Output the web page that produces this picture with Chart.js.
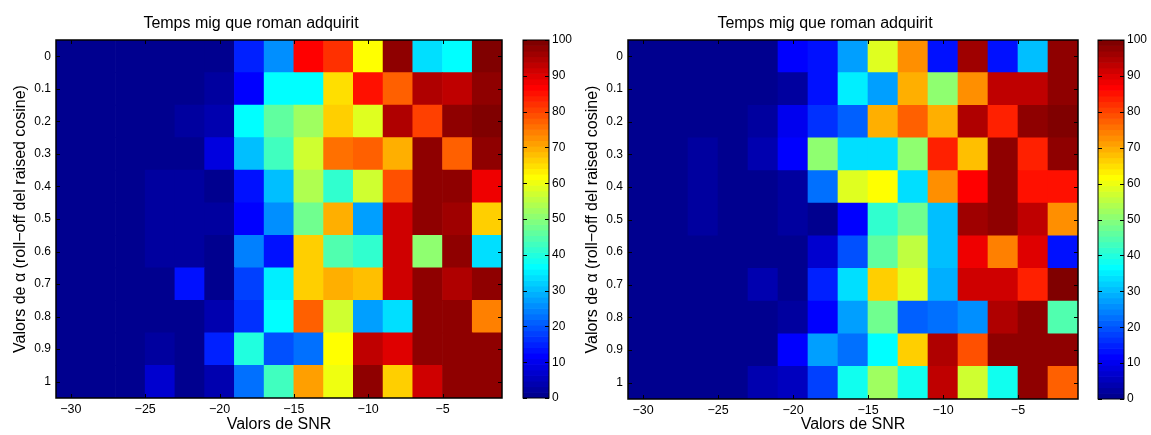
<!DOCTYPE html>
<html>
<head>
<meta charset="utf-8">
<script src="https://cdn.jsdelivr.net/npm/chart.js@4.4.0/dist/chart.umd.min.js"></script>
<style>
body { margin: 0; background: #fff; width: 1151px; height: 435px; position: relative; overflow: hidden; }
.box { position: absolute; top: 0; height: 435px; }
</style>
</head>
<body>
<div class="box" style="left:0;width:558px"><canvas id="mapA"></canvas></div>
<div class="box" style="left:515px;width:64px"><canvas id="barA"></canvas></div>
<div class="box" style="left:572px;width:562px"><canvas id="mapB"></canvas></div>
<div class="box" style="left:1090px;width:61px"><canvas id="barB"></canvas></div>
<script>
const snr = [-30, -28, -26, -24, -22, -20, -18, -16, -14, -12, -10, -8, -6, -4, -2];
const alphas = [0, 0.1, 0.2, 0.3, 0.4, 0.5, 0.6, 0.7, 0.8, 0.9, 1];
const snrTicks = [-30, -25, -20, -15, -10, -5];
const colorTicks = [0, 10, 20, 30, 40, 50, 60, 70, 80, 90, 100];
const titleText = 'Temps mig que roman adquirit';
const xTitle = 'Valors de SNR';
const yTitle = 'Valors de \u03b1 (roll\u2212off del raised cosine)';

// rows = alpha 0..1, columns = SNR -30..-2
const tempsA = [
    [0, 0, 0, 0, 0, 0, 15, 26, 87, 82, 62, 97, 33, 36, 100],
    [0, 0, 0, 0, 0, 3, 12, 37, 37, 65, 85, 77, 95, 93, 97],
    [0, 0, 0, 0, 3, 4, 37, 46, 52, 66, 58, 94, 81, 97, 100],
    [0, 0, 0, 0, 0, 8, 31, 43, 57, 76, 77, 69, 97, 78, 97],
    [0, 0, 0, 2, 2, 1, 14, 30, 54, 41, 57, 79, 97, 97, 88],
    [0, 0, 0, 2, 2, 2, 12, 25, 48, 70, 27, 91, 97, 96, 66],
    [0, 0, 0, 2, 2, 1, 24, 14, 66, 44, 41, 91, 50, 97, 33],
    [0, 0, 0, 0, 13, 1, 18, 35, 66, 70, 68, 91, 97, 95, 97],
    [0, 0, 0, 0, 0, 4, 16, 37, 77, 57, 27, 34, 97, 97, 74],
    [0, 0, 0, 3, 1, 15, 40, 20, 22, 62, 93, 90, 97, 97, 97],
    [0, 0, 0, 7, 1, 4, 22, 43, 71, 60, 97, 66, 91, 97, 97]
];
const tempsB = [
    [0, 0, 0, 0, 0, 12, 13, 27, 58, 73, 14, 96, 14, 30, 97],
    [0, 0, 0, 0, 0, 2, 14, 35, 27, 70, 50, 72, 93, 93, 97],
    [0, 0, 0, 0, 3, 10, 16, 21, 70, 77, 70, 95, 84, 97, 100],
    [0, 0, 2, 0, 4, 11, 50, 34, 34, 50, 84, 68, 97, 84, 97],
    [0, 0, 2, 0, 0, 2, 22, 58, 61, 33, 72, 86, 97, 85, 85],
    [0, 0, 2, 0, 0, 3, 0, 12, 41, 47, 31, 96, 97, 93, 73],
    [0, 0, 0, 0, 0, 1, 7, 19, 46, 56, 31, 88, 74, 90, 14],
    [0, 0, 0, 0, 4, 1, 15, 34, 66, 58, 29, 91, 92, 84, 100],
    [0, 0, 0, 0, 0, 3, 12, 27, 48, 21, 23, 26, 95, 97, 44],
    [0, 0, 0, 0, 0, 11, 27, 22, 37, 66, 94, 79, 97, 97, 97],
    [0, 0, 0, 0, 4, 6, 18, 38, 52, 38, 93, 57, 38, 98, 77]
];

Chart.defaults.font.family = '"Liberation Sans", Arial, Helvetica, sans-serif';
Chart.defaults.color = '#000';
Chart.defaults.animation = false;

// matlab jet(64)
function jet(v) {
    const i = Math.min(64, Math.floor(v / 100 * 64) + 1);
    const u = k => (k < 1 || k > 47) ? 0 : k <= 16 ? k / 16 : k <= 31 ? 1 : (48 - k) / 16;
    const c = k => Math.round(u(k) * 255);
    return 'rgb(' + c(i - 24) + ',' + c(i - 8) + ',' + c(i + 8) + ')';
}

function cells(grid) {
    const pts = [];
    grid.forEach((row, r) => row.forEach((v, c) => {
        pts.push({ x: snr[c], y: [alphas[r] - 0.05, alphas[r] + 0.05], v: v });
    }));
    return pts;
}

// box + inward tick marks like matlab
const frame = {
    id: 'frame',
    afterDraw(chart, args, opts) {
        const { ctx, chartArea: a, scales } = chart;
        const len = 4;
        ctx.save();
        ctx.strokeStyle = '#000';
        ctx.lineWidth = 1;
        ctx.beginPath();
        if (opts.xTicks) {
            scales.x.ticks.forEach(t => {
                const px = Math.round(scales.x.getPixelForValue(t.value)) + 0.5;
                ctx.moveTo(px, a.top); ctx.lineTo(px, a.top + len);
                ctx.moveTo(px, a.bottom); ctx.lineTo(px, a.bottom - len);
            });
        }
        scales.y.ticks.forEach(t => {
            const py = Math.round(scales.y.getPixelForValue(t.value)) + 0.5;
            ctx.moveTo(a.left, py); ctx.lineTo(a.left + len, py);
            ctx.moveTo(a.right, py); ctx.lineTo(a.right - len, py);
        });
        ctx.stroke();
        ctx.lineWidth = opts.width;
        ctx.strokeRect(a.left, a.top, a.right - a.left, a.bottom - a.top);
        ctx.restore();
    }
};

function heatmap(id, grid, xHeight) {
    return new Chart(document.getElementById(id), {
        type: 'bar',
        data: {
            datasets: [{
                data: cells(grid),
                backgroundColor: c => c.raw ? jet(c.raw.v) : '#000',
                borderWidth: 0,
                barPercentage: 1,
                categoryPercentage: 1
            }]
        },
        options: {
            responsive: true,
            maintainAspectRatio: false,
            events: [],
            layout: { padding: { right: 56 } },
            plugins: {
                legend: { display: false },
                tooltip: { enabled: false },
                title: {
                    display: true,
                    text: titleText,
                    font: { size: 16, weight: 'normal' },
                    padding: { top: 14, bottom: 6.8 }
                },
                frame: { xTicks: true, width: 1.5 }
            },
            scales: {
                x: {
                    type: 'linear',
                    min: -31,
                    max: -1,
                    offset: false,
                    afterBuildTicks: s => { s.ticks = snrTicks.map(v => ({ value: v })); },
                    afterFit: s => { s.height = xHeight; },
                    grid: { display: false, drawTicks: false },
                    border: { display: false },
                    ticks: {
                        autoSkip: false,
                        maxRotation: 0,
                        padding: 4,
                        font: { size: 12.5 },
                        callback: v => String(v).replace('-', '\u2212')
                    },
                    title: {
                        display: true,
                        text: xTitle,
                        font: { size: 16 },
                        padding: { top: 0, bottom: 0.5 }
                    }
                },
                y: {
                    type: 'linear',
                    reverse: true,
                    min: -0.05,
                    max: 1.05,
                    afterBuildTicks: s => { s.ticks = alphas.map(v => ({ value: v })); },
                    afterFit: s => { s.width = 56; },
                    grid: { display: false, drawTicks: false },
                    border: { display: false },
                    ticks: {
                        autoSkip: false,
                        padding: 5,
                        font: { size: 12 },
                        callback: v => String(v)
                    },
                    title: {
                        display: true,
                        text: yTitle,
                        font: { size: 16 },
                        padding: { top: 11, bottom: 0 }
                    }
                }
            }
        },
        plugins: [frame]
    });
}

function colorbar(id, bottom, axisWidth) {
    const levels = Array.from({ length: 64 }, (_, i) => i);
    return new Chart(document.getElementById(id), {
        type: 'bar',
        data: {
            datasets: [{
                data: levels.map(i => ({ x: 0, y: [i * 100 / 64, (i + 1) * 100 / 64], v: (i + 0.5) * 100 / 64 })),
                backgroundColor: c => c.raw ? jet(c.raw.v) : '#000',
                borderWidth: 0,
                barPercentage: 1,
                categoryPercentage: 1
            }]
        },
        options: {
            responsive: true,
            maintainAspectRatio: false,
            events: [],
            layout: { padding: { left: 8, top: 40, bottom: bottom } },
            plugins: {
                legend: { display: false },
                tooltip: { enabled: false },
                frame: { xTicks: false, width: 1 }
            },
            scales: {
                x: {
                    type: 'linear',
                    display: false,
                    min: -0.5,
                    max: 0.5,
                    offset: false,
                    afterBuildTicks: s => { s.ticks = [{ value: 0 }]; }
                },
                y: {
                    type: 'linear',
                    position: 'right',
                    min: 0,
                    max: 100,
                    afterBuildTicks: s => { s.ticks = colorTicks.map(v => ({ value: v })); },
                    afterFit: s => { s.width = axisWidth; },
                    grid: { display: false, drawTicks: false },
                    border: { display: false },
                    ticks: { padding: 3, font: { size: 12 } }
                }
            }
        },
        plugins: [frame]
    });
}

heatmap('mapA', tempsA, 37);
colorbar('barA', 37, 30);
heatmap('mapB', tempsB, 36);
colorbar('barB', 36, 27);
</script>
</body>
</html>
